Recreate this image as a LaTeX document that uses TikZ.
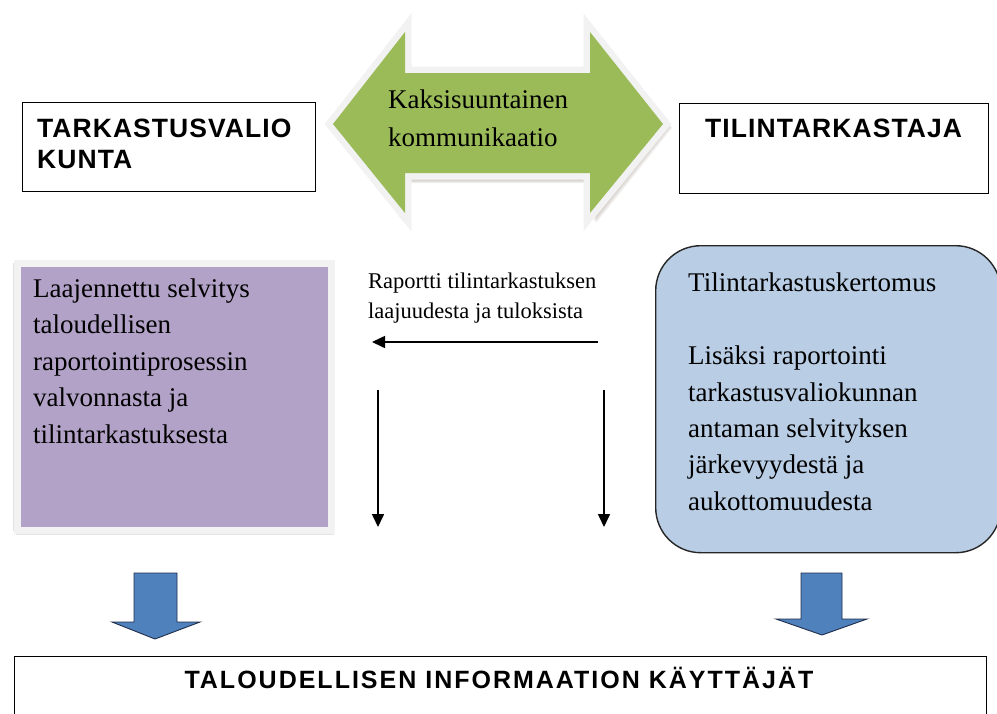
\documentclass[tikz,border=0pt]{standalone}
\usepackage{fontspec}
\setmainfont{Liberation Serif}
\newfontfamily\headfont[LetterSpace=4]{Liberation Sans}
\newfontfamily\footfont[LetterSpace=8]{Liberation Sans}
\usetikzlibrary{arrows.meta}

\definecolor{arrowgreen}{HTML}{9BBB59}
\definecolor{lilac}{HTML}{B2A2C7}
\definecolor{paleblue}{HTML}{B9CDE5}
\definecolor{blockblue}{HTML}{4F81BD}
\definecolor{blockedge}{HTML}{1F2D4A}
\definecolor{framegray}{HTML}{F2F2F2}
\definecolor{shadowtone}{HTML}{8C7C6C}

% Multi-line text nodes are placed by the baseline of their last line.
\tikzset{
  plainbox/.style={draw=black, line width=1.3pt, anchor=north west, inner sep=0pt},
  headtext/.style={font=\headfont\bfseries\fontsize{26.5}{31}\selectfont,
                   anchor=base west, inner sep=0pt, align=left},
  foottext/.style={font=\footfont\bfseries\fontsize{25}{30}\selectfont,
                   anchor=base, inner sep=0pt},
  bodytext/.style={font=\fontsize{27}{36.5}\selectfont,
                   anchor=base west, inner sep=0pt, align=left},
  smalltext/.style={font=\fontsize{22.5}{30}\selectfont,
                    anchor=base west, inner sep=0pt, align=left},
  thinarrow/.style={line width=1.6pt, -{Triangle[length=13pt,width=12pt]}},
  blockarrow/.style={fill=blockblue, draw=blockedge, line width=0.9pt, line join=miter},
  softshade/.style={fill=shadowtone, opacity=0.18},
}

\begin{document}
\begin{tikzpicture}[x=1pt, y=-1pt]
\useasboundingbox (0,0) rectangle (997,713);

% ---- two-way arrow between the committee and the auditor ----
\foreach \d in {1,2,3}
  \fill[softshade, opacity=0.12, shift={(\d,\d+1)}]
    (328,124) -- (402,27) -- (402,67) -- (593,67) -- (593,27) -- (669,124)
    -- (593,219) -- (593,179) -- (402,179) -- (402,219) -- cycle;
\draw[framegray, line width=13pt, line join=miter]
  (333,124) -- (405,32) -- (405,73) -- (590,73) -- (590,32) -- (663,124)
  -- (590,213) -- (590,173) -- (405,173) -- (405,213) -- cycle;
\fill[arrowgreen]
  (333,124) -- (405,32) -- (405,73) -- (590,73) -- (590,32) -- (663,124)
  -- (590,213) -- (590,173) -- (405,173) -- (405,213) -- cycle;
\node[bodytext, font=\fontsize{27}{38}\selectfont] (comm) at (388,146)
  {Kaksisuuntainen\\kommunikaatio};

% ---- top boxes ----
\node[plainbox, minimum width=293pt, minimum height=89pt] (tvbox) at (22,102) {};
\node[headtext] (tvtext) at (37,168) {TARKASTUSVALIO\\KUNTA};
\node[plainbox, minimum width=309pt, minimum height=90pt] (tbox) at (679,103) {};
\node[headtext] (ttext) at (705,137) {TILINTARKASTAJA};

% ---- committee's report ----
\foreach \d in {1,2,3,4}
  \fill[softshade, opacity=0.22] (12+\d,262+\d) rectangle (331+\d*0.7,530+\d*1.3);
\node[plainbox, draw=framegray, line width=7pt, fill=lilac,
      minimum width=314pt, minimum height=267pt] (selv) at (13.5,259.5) {};
\node[bodytext] (selvtext) at (33,443)
  {Laajennettu selvitys\\taloudellisen\\raportointiprosessin\\valvonnasta ja\\tilintarkastuksesta};

% ---- auditor's report ----
\node[plainbox, draw=black!85, line width=1.4pt, fill=paleblue, rounded corners=45pt,
      minimum width=345pt, minimum height=307pt] (kert) at (655,245) {};
\node[bodytext, font=\fontsize{27}{36.3}\selectfont] (kerttext) at (688,510)
  {Tilintarkastuskertomus\\[37pt]Lisäksi raportointi\\tarkastusvaliokunnan\\antaman selvityksen\\järkevyydestä ja\\aukottomuudesta};

% ---- report from auditor to committee ----
\node[smalltext] (rap) at (368,318) {Raportti tilintarkastuksen\\laajuudesta ja tuloksista};
\coordinate (hfrom) at (598,342);
\coordinate (hto) at (372,342);
\draw[thinarrow] (hfrom) -- (hto);
\coordinate (lfrom) at (378,390);
\coordinate (lto) at (378,527);
\draw[thinarrow] (lfrom) -- (lto);
\coordinate (rfrom) at (604,390);
\coordinate (rto) at (604,527);
\draw[thinarrow] (rfrom) -- (rto);

% ---- block arrows down to the users ----
\draw[blockarrow] (134,573) -- (177,573) -- (177,622) -- (200,622) -- (155,639)
  -- (112,622) -- (134,622) -- cycle;
\draw[blockarrow] (801,573) -- (842,573) -- (842,619) -- (867,619) -- (822,635)
  -- (776,619) -- (801,619) -- cycle;

% ---- users of financial information ----
\node[plainbox, minimum width=972pt, minimum height=80pt] (users) at (14,656) {};
\node[foottext] (userstext) at (499,688) {TALOUDELLISEN INFORMAATION KÄYTTÄJÄT};
\end{tikzpicture}
\end{document}
